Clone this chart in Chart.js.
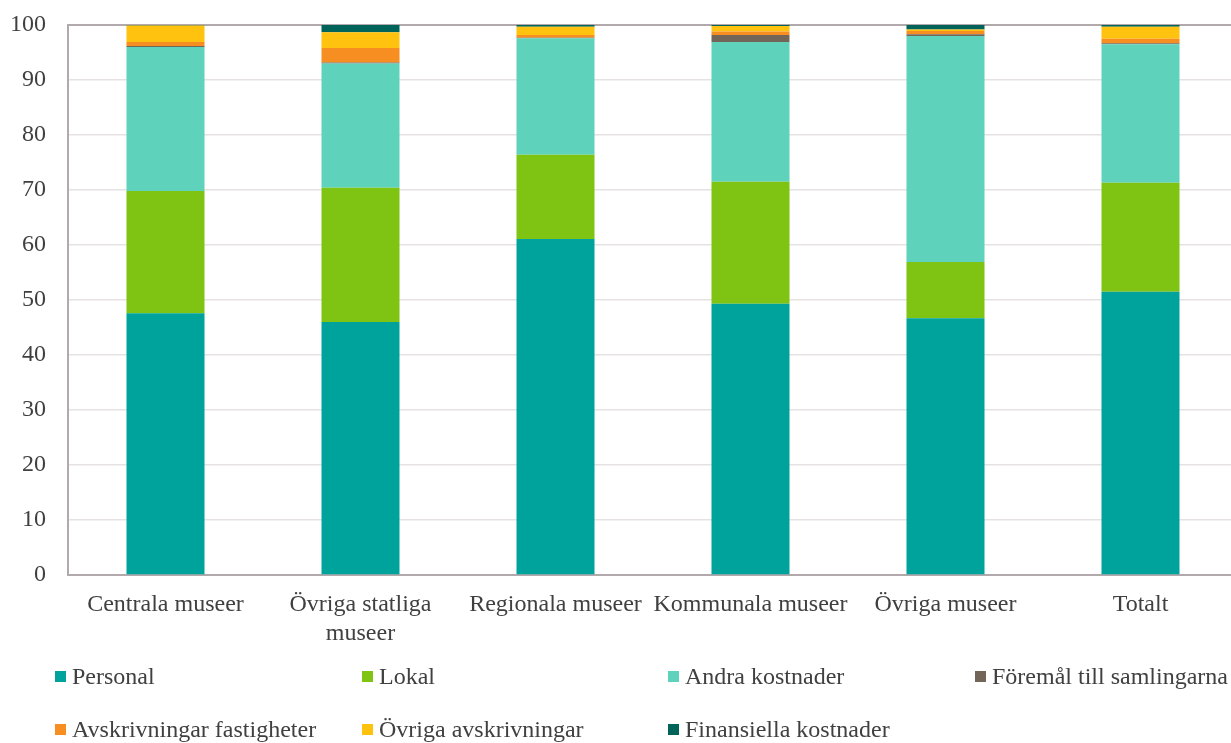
<!DOCTYPE html>
<html>
<head>
<meta charset="utf-8">
<script src="https://cdn.jsdelivr.net/npm/chart.js@4/dist/chart.umd.min.js"></script>
<style>
  html, body { margin: 0; padding: 0; background: #ffffff; overflow: hidden; width: 1231px; height: 743px; }
  #wrap { position: absolute; left: 0; top: 0; width: 1238px; height: 660px; }
  #legend { position: absolute; left: 0; top: 0; width: 1231px; height: 743px; pointer-events: none;
            font-family: "Liberation Serif", "Times New Roman", serif; font-size: 24px; color: #404040; }
  .item { position: absolute; white-space: nowrap; display: flex; align-items: center; height: 30px; }
  .box { width: 11px; height: 11px; margin-right: 6px; }
</style>
</head>
<body>
<div id="wrap"><canvas id="c" width="1238" height="660"></canvas></div>
<div id="legend"></div>
<script>
const categories = ['Centrala museer', ['Övriga statliga', 'museer'], 'Regionala museer', 'Kommunala museer', 'Övriga museer', 'Totalt'];
const seriesNames = ['Personal', 'Lokal', 'Andra kostnader', 'Föremål till samlingarna', 'Avskrivningar fastigheter', 'Övriga avskrivningar', 'Finansiella kostnader'];
const personal    = [47.6, 46.0, 61.1, 49.3, 46.7, 51.5];
const lokal       = [22.2, 24.4, 15.3, 22.2, 10.2, 19.8];
const andra       = [26.2, 22.6, 21.2, 25.4, 41.1, 25.2];
const foremal     = [0.2, 0.2, 0.1, 1.3, 0.3, 0.2];
const avskrFast   = [0.7, 2.6, 0.5, 0.6, 0.6, 0.8];
const ovrigaAvskr = [3.0, 2.9, 1.5, 1.0, 0.3, 2.2];
const finans      = [0.1, 1.3, 0.3, 0.2, 0.8, 0.3];
const yTicks = [0, 10, 20, 30, 40, 50, 60, 70, 80, 90, 100];

const colors = ['#00A39B', '#7FC313', '#5FD2BB', '#736659', '#F68E22', '#FFC20F', '#00645B'];
const values = [personal, lokal, andra, foremal, avskrFast, ovrigaAvskr, finans];

const FONT = '"Liberation Serif", "Times New Roman", serif';
const TEXT = '#404040';
const AXIS = '#B1A9AB';

const datasets = seriesNames.map((name, i) => ({
  label: name,
  data: values[i],
  backgroundColor: colors[i],
  borderWidth: 0,
  barPercentage: 0.4,
  categoryPercentage: 1.0,
  stack: 's'
}));

new Chart(document.getElementById('c'), {
  type: 'bar',
  data: { labels: categories, datasets },
  options: {
    responsive: false,
    animation: false,
    devicePixelRatio: 1,
    layout: { padding: { top: 25, left: 0, right: 0, bottom: 0 } },
    plugins: { legend: { display: false }, tooltip: { enabled: false } },
    scales: {
      x: {
        stacked: true,
        grid: { display: false, drawTicks: false },
        border: { display: true, color: AXIS, width: 2 },
        ticks: { color: TEXT, font: { family: FONT, size: 24, lineHeight: 1.22 }, padding: 15, maxRotation: 0, autoSkip: false },
        afterFit: s => { s.height = 85; s.paddingLeft = 0; s.paddingRight = 0; }
      },
      y: {
        stacked: true,
        min: 0, max: 100,
        afterBuildTicks: s => { s.ticks = yTicks.map(v => ({ value: v })); },
        grid: {
          drawTicks: false,
          color: ctx => (ctx.tick && ctx.tick.value === 100) ? AXIS : '#E6E2E2',
          lineWidth: ctx => (ctx.tick && ctx.tick.value === 100) ? 2 : 1.5
        },
        border: { display: true, color: AXIS, width: 2 },
        ticks: { color: TEXT, font: { family: FONT, size: 24 }, padding: 22 },
        afterFit: s => { s.width = 68; s.paddingTop = 0; s.paddingBottom = 0; }
      }
    }
  }
});

// Legend (HTML, grid layout like the reference)
const legendPos = [
  [55, 676], [362, 676], [668, 676], [975, 676],
  [55, 729], [362, 729], [668, 729]
];
const lg = document.getElementById('legend');
seriesNames.forEach((name, i) => {
  const it = document.createElement('div');
  it.className = 'item';
  it.style.left = legendPos[i][0] + 'px';
  it.style.top = (legendPos[i][1] - 15) + 'px';
  const b = document.createElement('span');
  b.className = 'box';
  b.style.background = colors[i];
  const t = document.createElement('span');
  t.textContent = name;
  it.appendChild(b); it.appendChild(t);
  lg.appendChild(it);
});
</script>
</body>
</html>
